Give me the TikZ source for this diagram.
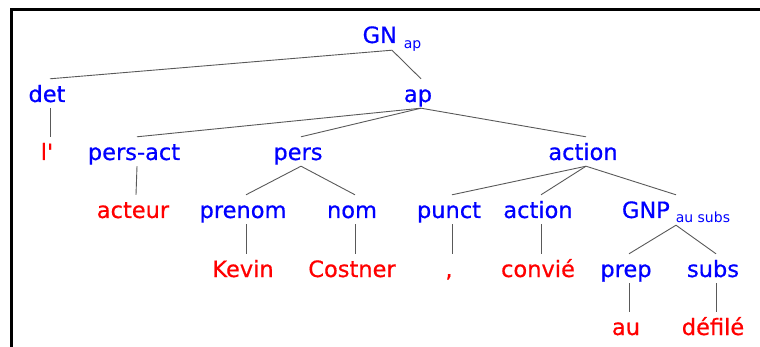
\documentclass[tikz,border=0pt]{standalone}
\usepackage{fontspec}
\setmainfont{DejaVu Sans}[FakeBold=0.6]
\newfontfamily\subfam{DejaVu Sans}
\definecolor{catblue}{RGB}{0,0,255}
\definecolor{wordred}{RGB}{255,0,0}
\newcommand{\subsz}{\subfam\fontsize{14}{16}\selectfont}
\tikzset{
  lab/.style={anchor=base, inner sep=0pt, text height=23pt, text depth=6pt,
    font=\fontsize{22.5}{27}\selectfont},
  cat/.style={lab, text=catblue, execute at end node={\hspace{6pt}}},
  word/.style={lab, text=wordred, execute at end node={\hspace{6pt}}},
  catsub/.style={lab, text=catblue, text depth=7pt},
  branch/.style={draw=black!65, line width=0.9pt}
}

\begin{document}
\begin{tikzpicture}[x=1pt,y=-1pt]
\useasboundingbox (0,0) rectangle (760,347);

% cadre
\draw[line width=3pt] (11,347) -- (11,10) -- (760,10);

% racine
\node[catsub] (gn) at (392,43) {GN\hspace{7pt}\raisebox{-6pt}{\subsz ap}};

% niveau 1
\node[cat] (det) at (50,102) {det};
\node[cat] (ap) at (421,102) {ap};

% niveau 2
\node[word] (la) at (50,160) {l\textquotesingle};
\node[cat] (persact) at (137,160) {pers-act};
\node[cat] (pers) at (301,160) {pers};
\node[cat] (actionA) at (586,160) {action};

% niveau 3
\node[word] (acteur) at (136,218) {acteur};
\node[cat] (prenom) at (246,218) {prenom};
\node[cat] (nom) at (355,218) {nom};
\node[cat] (punct) at (452,218) {punct};
\node[cat] (actionB) at (541,218) {action};
\node[catsub] (gnp) at (676,218) {GNP\hspace{6pt}\raisebox{-5pt}{\subsz au subs}};

% niveau 4
\node[word] (kevin) at (246,277) {Kevin};
\node[word] (costner) at (355,277) {Costner};
\node[word] (comma) at (452,277) {,};
\node[word] (convie) at (541,277) {convié};
\node[cat] (prep) at (629,277) {prep};
\node[cat] (subs) at (716,277) {subs};

% niveau 5
\node[word] (au) at (629,335) {au};
\node[word] (defile) at (716,335) {défilé};

% branches
\foreach \p/\c in {gn/det, gn/ap, det/la, ap/persact, ap/pers, ap/actionA,
    persact/acteur, pers/prenom, pers/nom, actionA/punct, actionA/actionB,
    actionA/gnp, prenom/kevin, nom/costner, punct/comma, actionB/convie,
    gnp/prep, gnp/subs, prep/au, subs/defile}
  \draw[branch] (\p.south) -- (\c.north);

\end{tikzpicture}
\end{document}
